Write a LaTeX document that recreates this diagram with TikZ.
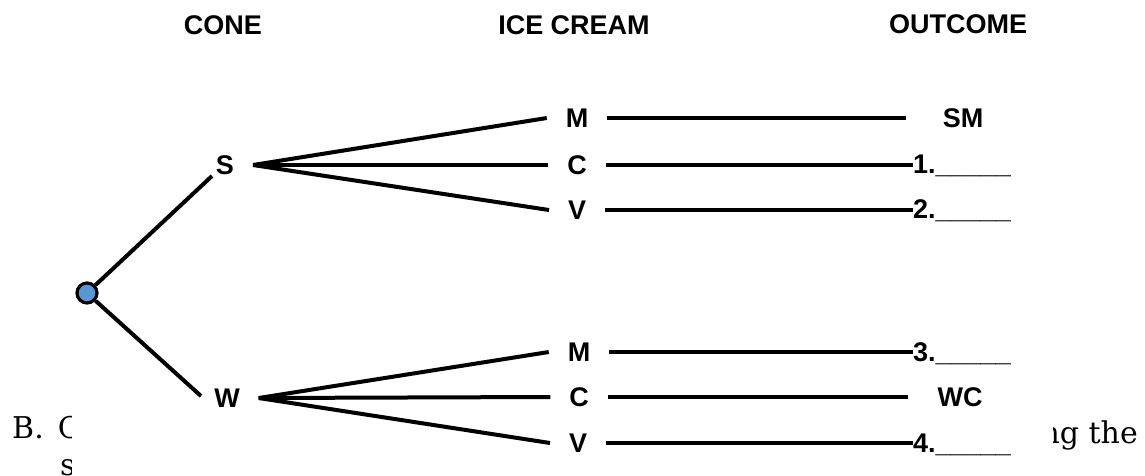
\documentclass[tikz,border=0pt]{standalone}
\usepackage{fontspec}
\newfontfamily\arialf{Liberation Sans}
\newfontfamily\seriff{DejaVu Serif}
\definecolor{rootblue}{RGB}{88,150,212}
\begin{document}
\begin{tikzpicture}[x=1pt,y=-1pt,
  lab/.style={font=\arialf\bfseries\fontsize{27}{32}\selectfont, inner sep=0pt},
  br/.style={lab, outer sep=19pt},
  ln/.style={line width=4pt},
  body/.style={font=\seriff\fontsize{30}{36}\selectfont, inner sep=0pt}]
\useasboundingbox (0,0) rectangle (1145,475);
\fill[white] (0,0) rectangle (1145,475);

% clipped body text of the page behind the diagram
\begin{scope}
  \clip (0,380) rectangle (71,475);
  \node[body, anchor=base west] (bc) at (12,438) {B.\kern14pt C};
  \node[body, anchor=base west] (s2) at (60,475) {s};
\end{scope}
\begin{scope}
  \clip (1053,380) rectangle (1145,475);
  \node[body, anchor=base east] (ngthe) at (1138,443) {ng the};
\end{scope}

% headers
\node[lab] (hcone) at (223,25) {CONE};
\node[lab] (hice) at (574,25) {ICE CREAM};
\node[lab] (hout) at (958,24) {OUTCOME};

% root
\node[circle, draw, line width=3.2pt, fill=rootblue, minimum size=20pt, inner sep=0pt] (root) at (87,293) {};

% cones
\node[br] (S) at (225,165) {S};
\node[br] (W) at (227,398) {W};
\coordinate (sEnd) at (212,176);
\coordinate (wEnd) at (201,396);
\draw[ln] (root) -- (sEnd);
\draw[ln] (root) -- (wEnd);

% ice creams
\node[br] (M1) at (577,118) {M};
\node[br] (C1) at (577,165) {C};
\node[br] (V1) at (577,210) {V};
\node[br] (M2) at (579,352) {M};
\node[br] (C2) at (579,397) {C};
\node[br] (V2) at (578,443) {V};

\draw[ln] (S.east) -- (M1.west);
\draw[ln] (S.east) -- (C1.west);
\draw[ln] (S.east) -- (V1.west);
\draw[ln] (W.east) -- (M2.west);
\draw[ln] (W.east) -- (C2.west);
\draw[ln] (W.east) -- (V2.west);

% outcomes
\node[lab, outer sep=37pt] (sm) at (963,118) {SM};
\node[lab, anchor=base west] (o1) at (913,173) {1.\_\_\_\_\_};
\node[lab, anchor=base west] (o2) at (913,218) {2.\_\_\_\_\_};
\node[lab, anchor=base west] (o3) at (913,361) {3.\_\_\_\_\_};
\node[lab, outer sep=30pt] (wc) at (960,397) {WC};
\node[lab, anchor=base west] (o4) at (913,452) {4.\_\_\_\_\_};

\draw[ln] (M1.east) -- (M1.east -| sm.west);
\draw[ln] (C1.east) -- (C1.east -| o1.west);
\draw[ln] (V1.east) -- (V1.east -| o2.west);
\draw[ln] (M2.east) -- (M2.east -| o3.west);
\draw[ln] (C2.east) -- (C2.east -| wc.west);
\draw[ln] (V2.east) -- (V2.east -| o4.west);
\end{tikzpicture}
\end{document}
